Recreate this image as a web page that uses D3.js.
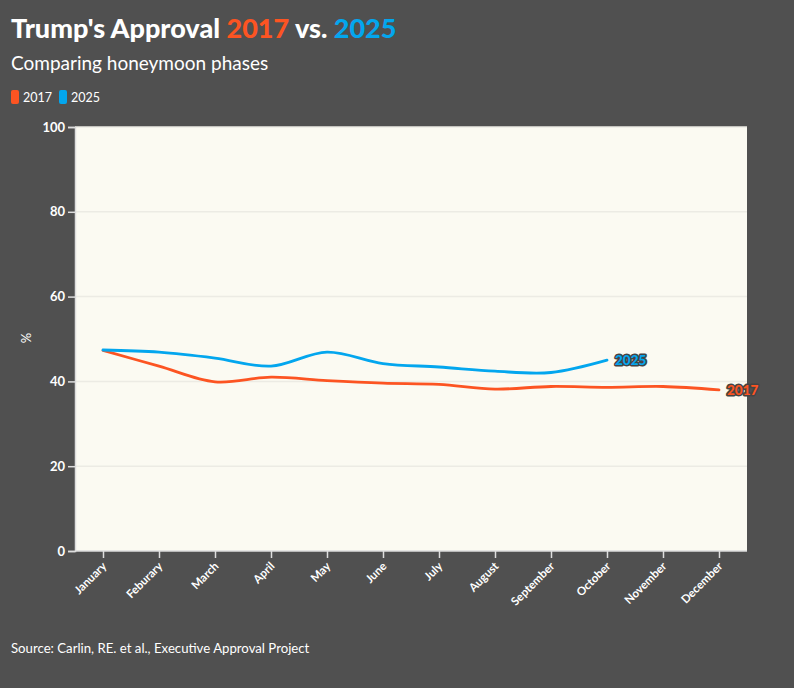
<!DOCTYPE html>
<html><head><meta charset="utf-8">
<script src="https://cdn.jsdelivr.net/npm/d3@7"></script>
<style>
html,body{margin:0;padding:0;background:#505050;}
svg{display:block;font-family:"Lato","Open Sans",sans-serif;}
</style></head><body>
<svg id="c" width="794" height="688"></svg>
<script>
const months = ["January","Feburary","March","April","May","June","July","August","September","October","November","December"];
const series2017 = [47.3,43.6,39.9,41.0,40.2,39.6,39.3,38.2,38.8,38.6,38.8,38.0];
const series2025 = [47.4,46.9,45.5,43.6,46.9,44.2,43.4,42.4,42.1,45.0];
const yTicks = [0,20,40,60,80,100];
const red = "#fc5422", blue = "#03a6ee";

const svg = d3.select("#c");
const L = 75, R = 747, T = 127, B = 551;
const x = d3.scalePoint().domain(months).range([L, R]).padding(0.5);
const y = d3.scaleLinear().domain([0,100]).range([B, T]);

// title
const title = svg.append("text").attr("x",11).attr("y",38).attr("font-size",27).attr("font-weight",900).attr("fill","#fff");
title.append("tspan").text("Trump's Approval ");
title.append("tspan").attr("fill",red).text("2017");
title.append("tspan").text(" vs. ");
title.append("tspan").attr("fill",blue).text("2025");
svg.append("text").attr("x",11).attr("y",70).attr("font-size",19).attr("fill","#fff").text("Comparing honeymoon phases");

// legend
const leg = [["2017",red,11],["2025",blue,59]];
leg.forEach(([t,c,lx])=>{
  svg.append("rect").attr("x",lx).attr("y",90).attr("width",8).attr("height",14).attr("rx",2).attr("fill",c);
  svg.append("text").attr("x",lx+12).attr("y",102).attr("font-size",12.5).attr("fill","#fff").text(t);
});

// plot bg
svg.append("rect").attr("x",L).attr("y",T).attr("width",R-L).attr("height",B-T).attr("fill","#fbfaf2");

// grid
svg.append("g").selectAll("line").data(yTicks.filter(d=>d>0)).join("line")
  .attr("x1",L).attr("x2",R).attr("y1",d=>y(d)).attr("y2",d=>y(d))
  .attr("stroke","#ecebe4").attr("stroke-width",1.5);

// y axis
const ya = svg.append("g").attr("transform",`translate(${L},0)`)
  .call(d3.axisLeft(y).tickValues(yTicks).tickSize(7).tickPadding(3));
ya.select(".domain").attr("stroke","#ddd").attr("stroke-width",1.5);
ya.selectAll(".tick line").attr("stroke","#ddd").attr("stroke-width",1.5);
ya.selectAll("text").attr("fill","#fff").attr("font-size",13).attr("font-weight",700).attr("font-family","Lato,sans-serif");

svg.append("text").attr("transform",`translate(31,338) rotate(-90)`).attr("text-anchor","middle")
  .attr("font-size",13).attr("fill","#fff").text("%");

// x axis
const xa = svg.append("g").attr("transform",`translate(0,${B})`)
  .call(d3.axisBottom(x).tickSize(7).tickSizeOuter(0));
xa.select(".domain").attr("stroke","#ddd").attr("stroke-width",1.5).attr("d",`M${L},0H${R}`);
xa.selectAll(".tick line").attr("stroke","#ddd").attr("stroke-width",1.5);
xa.selectAll("text").attr("fill","#fff").attr("font-size",11.5).attr("font-weight",700).attr("font-family","Lato,sans-serif")
  .attr("text-anchor","end").attr("y",0).attr("dy","0.35em").attr("transform","translate(1,13) rotate(-45)");

// lines
const line = d3.line().x((d,i)=>x(months[i])).y(d=>y(d)).curve(d3.curveCatmullRom.alpha(0.5));
svg.append("path").datum(series2017).attr("d",line).attr("fill","none").attr("stroke",red).attr("stroke-width",2.8).attr("stroke-linecap","round");
svg.append("path").datum(series2025).attr("d",line).attr("fill","none").attr("stroke",blue).attr("stroke-width",2.8).attr("stroke-linecap","round");

// end labels
function endLabel(data, txt, c){
  const i = data.length-1;
  svg.append("text").attr("x",x(months[i])+8).attr("y",y(data[i])+5)
    .attr("font-size",13.5).attr("font-weight",900).attr("fill",c)
    .attr("stroke","#444").attr("stroke-width",3).attr("paint-order","stroke").attr("stroke-linejoin","round")
    .text(txt);
}
endLabel(series2025,"2025",blue);
endLabel(series2017,"2017",red);

// source
svg.append("text").attr("x",11).attr("y",653).attr("font-size",13.2).attr("fill","#fff").text("Source: Carlin, RE. et al., Executive Approval Project");
</script>
</body></html>
